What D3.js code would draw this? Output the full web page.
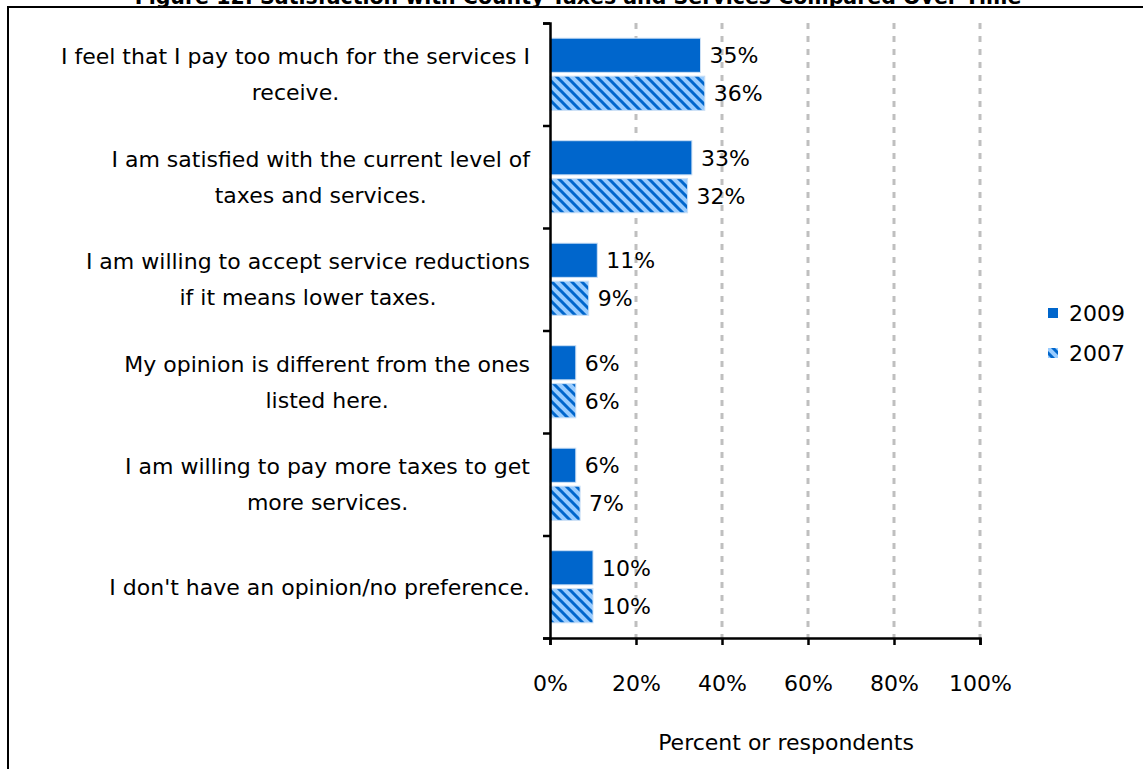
<!DOCTYPE html>
<html><head><meta charset="utf-8">
<script src="https://cdn.jsdelivr.net/npm/d3@7"></script>
<style>body{margin:0;background:#fff;} svg{display:block;}</style>
</head><body>
<svg id="c" width="1143" height="769"></svg>
<script>
const title = "Figure 12: Satisfaction with County Taxes and Services Compared Over Time";
const categories = [
  ["I feel that I pay too much for the services I", "receive."],
  ["I am satisfied with the current level of", "taxes and services."],
  ["I am willing to accept service reductions", "if it means lower taxes."],
  ["My opinion is different from the ones", "listed here."],
  ["I am willing to pay more taxes to get", "more services."],
  ["I don't have an opinion/no preference."]
];
const seriesNames = ["2009", "2007"];
const values2009 = [35, 33, 11, 6, 6, 10];
const values2007 = [36, 32, 9, 6, 7, 10];
const xTicks = [0, 20, 40, 60, 80, 100];
const xTitle = "Percent or respondents";

const FONT = "'DejaVu Sans', sans-serif";
const FS = 22;
const svg = d3.select("#c");
const defs = svg.append("defs");
const pat = defs.append("pattern").attr("id","hatch").attr("patternUnits","userSpaceOnUse")
  .attr("width",10).attr("height",10);
pat.append("rect").attr("width",10).attr("height",10).attr("fill","#99ccff");
pat.append("path").attr("d","M-5,-5L15,15M-5,5L5,15M5,-5L15,5").attr("stroke","#0066cc").attr("stroke-width",3);

// frame
svg.append("rect").attr("x",8).attr("y",7).attr("width",1200).attr("height",800)
  .attr("fill","none").attr("stroke","#000").attr("stroke-width",2);
// title (cut off at top, as in the reference)
const tt = svg.append("text").attr("x",578).attr("y",4).attr("text-anchor","middle")
  .attr("font-family",FONT).attr("font-weight","bold").attr("font-size",20).text(title);
const tw = tt.node().getComputedTextLength();
tt.attr("font-size", 20*887/tw);

const ids = categories.map((d,i)=>i);
const x = d3.scaleLinear().domain([0,100]).range([550,980]);
const y = d3.scaleBand().domain(ids).range([23,638]).paddingInner(0).paddingOuter(0);
const y1 = d3.scaleBand().domain(seriesNames).range([0,y.bandwidth()]).paddingInner(0.1).paddingOuter(0.4);

// gridlines
svg.append("g").selectAll("line").data(xTicks.filter(t=>t>0)).join("line")
  .attr("x1",d=>x(d)).attr("x2",d=>x(d)).attr("y1",23).attr("y2",638)
  .attr("stroke","#bfbfbf").attr("stroke-width",3).attr("stroke-dasharray","6,7");

const data = [];
ids.forEach(i=>{
  data.push({i, s:"2009", v:values2009[i]});
  data.push({i, s:"2007", v:values2007[i]});
});
svg.append("g").selectAll("rect").data(data).join("rect")
  .attr("x",x(0)).attr("y",d=>y(d.i)+y1(d.s))
  .attr("width",d=>x(d.v)-x(0)).attr("height",y1.bandwidth())
  .attr("fill",d=>d.s==="2009"?"#0066cc":"url(#hatch)")
  .attr("stroke","#cce0f5").attr("stroke-width",1);

svg.append("g").selectAll("text").data(data).join("text")
  .attr("x",d=>x(d.v)+9).attr("y",d=>y(d.i)+y1(d.s)+y1.bandwidth()/2)
  .attr("dy","0.36em").attr("font-family",FONT).attr("font-size",FS).attr("fill","#000")
  .text(d=>d.v+"%");

// y axis
const yAxis = d3.axisLeft(d3.scaleLinear().domain([0,6]).range([23,638])).ticks(6).tickSize(7).tickFormat("");
const ya = svg.append("g").attr("transform",`translate(${x(0)},0)`).call(yAxis);
ya.selectAll("path,line").attr("stroke","#000").attr("stroke-width",2.5);
// x axis
const xAxis = d3.axisBottom(x).tickValues(xTicks).tickSize(7).tickFormat(d=>d+"%");
const xa = svg.append("g").attr("transform",`translate(0,638)`).call(xAxis);
xa.select(".domain").attr("stroke","#000").attr("stroke-width",2.5);
xa.selectAll("line").attr("stroke","#000").attr("stroke-width",2.5);
xa.selectAll("text").attr("font-family",FONT).attr("font-size",FS).attr("fill","#000").attr("y",45).attr("dy","0.36em");

// category labels: block centered, widest line right-aligned at 530
const lab = svg.append("g").selectAll("text").data(ids).join("text")
  .attr("text-anchor","middle").attr("font-family",FONT).attr("font-size",FS).attr("fill","#000");
lab.each(function(i){
  const lines = categories[i];
  const cy = y(i)+y.bandwidth()/2;
  const lh = 36;
  const sel = d3.select(this);
  const spans = lines.map((t,k)=> sel.append("tspan")
      .attr("y",cy + (k-(lines.length-1)/2)*lh).attr("dy","0.36em").text(t));
  const maxW = d3.max(spans, s=>s.node().getComputedTextLength());
  spans.forEach(s=>s.attr("x",530 - maxW/2));
});

// axis title
svg.append("text").attr("x",786).attr("y",742).attr("dy","0.36em").attr("text-anchor","middle")
  .attr("font-family",FONT).attr("font-size",FS).text(xTitle);

// legend
const lg = svg.append("g").selectAll("g").data(seriesNames).join("g")
  .attr("transform",(d,k)=>`translate(1048,${313+k*40})`);
lg.append("rect").attr("x",0).attr("y",-5).attr("width",10).attr("height",10)
  .attr("fill",d=>d==="2009"?"#0066cc":"url(#hatch)");
lg.append("text").attr("x",21).attr("y",0).attr("dy","0.36em").attr("font-family",FONT)
  .attr("font-size",FS).text(d=>d);
</script>
</body></html>
